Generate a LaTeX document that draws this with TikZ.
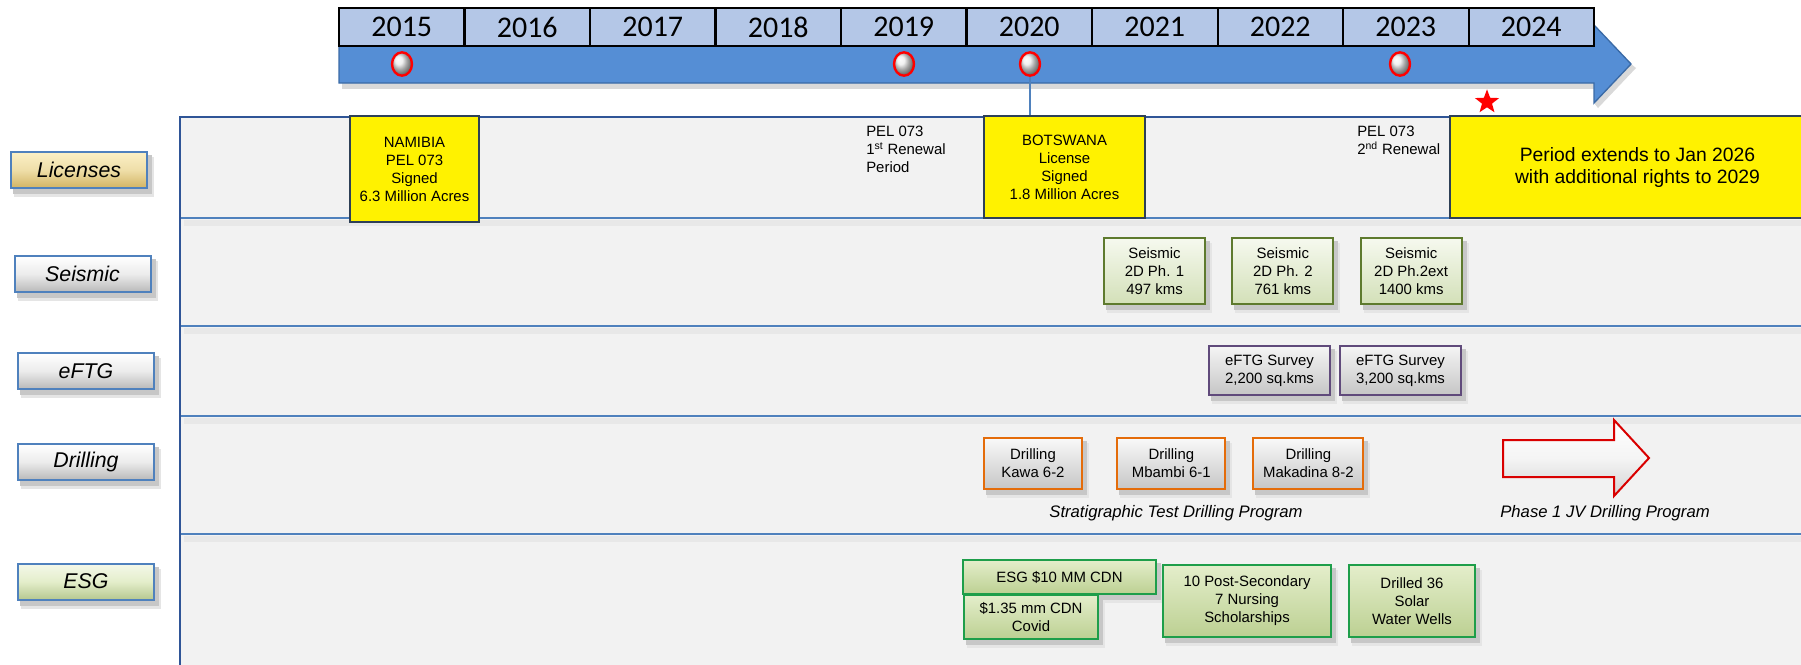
\documentclass[tikz,border=0pt]{standalone}
\usepackage{fontspec}
\setmainfont{Liberation Sans}
\newfontfamily\yearfont{Carlito}
\usepackage{tikz}
\usetikzlibrary{shapes.geometric}
\usetikzlibrary{positioning}
\usetikzlibrary{calc}

\pgfdeclarelayer{panel}
\pgfdeclarelayer{shadow}
\pgfsetlayers{panel,shadow,main}

\definecolor{yearblue}{HTML}{B4C7E7}
\definecolor{bandblue}{HTML}{558ED5}
\definecolor{bandedge}{HTML}{3A6AA6}
\definecolor{panelgray}{HTML}{F2F2F2}
\definecolor{rowblue}{HTML}{4F81BD}
\definecolor{paneledge}{HTML}{2F5597}
\definecolor{licedge}{HTML}{2E4057}
\definecolor{seisedge}{HTML}{5E7A2E}
\definecolor{seistop}{HTML}{F6F9EF}
\definecolor{seisbot}{HTML}{D3E0B8}
\definecolor{eftgedge}{HTML}{604A7B}
\definecolor{drilledge}{HTML}{E46C0A}
\definecolor{esgedge}{HTML}{1E9E4A}
\definecolor{esgtop}{HTML}{E4EECB}
\definecolor{esgbot}{HTML}{BCD092}
\definecolor{goldtop}{HTML}{FBF0C6}
\definecolor{goldbot}{HTML}{D2B463}

\begin{document}
\begin{tikzpicture}[
                x=0.75pt, y=-0.75pt,
                every node/.style={align=center, inner sep=0pt},
                yearbox/.style={draw=black, line width=1.5pt, fill=yearblue, minimum width=94.1pt, minimum height=28.5pt, font=\yearfont\fontsize{22.5}{22.5}\selectfont},
                milestone/.style={ellipse, draw=red, line width=1.8pt, ball color=white!85!gray, minimum width=15pt, minimum height=17.5pt},
                rowlabel/.style={draw=rowblue, line width=1.5pt, minimum width=102pt, minimum height=27pt, font=\itshape\fontsize{16}{16}\selectfont},
                boxtext/.style={font=\fontsize{11.2}{13.5}\selectfont},
                licbox/.style={boxtext, draw=licedge, line width=1.5pt, fill=yellow},
                note/.style={boxtext, align=left, anchor=north west},
                seisbox/.style={boxtext, draw=seisedge, line width=1.5pt, top color=seistop, bottom color=seisbot, minimum width=75.75pt, minimum height=49.5pt},
                eftgbox/.style={boxtext, draw=eftgedge, line width=1.5pt, top color=gray!8, bottom color=gray!45, minimum width=90.75pt, minimum height=36.75pt},
                drillbox/.style={boxtext, draw=drilledge, line width=1.5pt, top color=gray!5, bottom color=gray!45, minimum height=38.25pt},
                esgbox/.style={boxtext, draw=esgedge, line width=1.5pt, top color=esgtop, bottom color=esgbot},
                caption/.style={font=\itshape\fontsize{12.5}{14}\selectfont}
            ]
            \useasboundingbox (0,0) rectangle (1801,664);

            % Panel and rows
            \begin{pgfonlayer}{panel}
            \fill[panelgray] (180,117) rectangle (1830,690);
            \foreach \ry in {218,326,416,534} {
                \draw[black!9, line width=4pt] (184,\ry+5) -- (1830,\ry+5);
                \draw[rowblue, line width=1.5pt] (180,\ry) -- (1830,\ry);
            }
            \draw[paneledge, line width=2pt] (180,690) -- (180,117) -- (1830,117);
            \end{pgfonlayer}

            % Timeline band with arrow head
            \filldraw[fill=bandblue, draw=bandedge, line width=1pt]
            (339,46) -- (1594,46) -- (1594,25) -- (1631,64) -- (1594,103) -- (1594,83) -- (339,83) -- cycle;

            % Year boxes
            \foreach \yr [count=\i from 0] in {2015,2016,2017,2018,2019,2020,2021,2022,2023,2024}
                \node[yearbox] (y\yr) at (401.75+125.5*\i,27) {\yr};

            % Milestones
            \node[milestone] (m2015) at (402,64) {};
            \node[milestone] (m2019) at (904,64) {};
            \node[milestone] (m2020) at (1030,64) {};
            \node[milestone] (m2023) at (1400,64) {};
            \node[star, star points=5, star point ratio=2.4, fill=red, minimum size=19pt] (deadline) at (1487,102) {};

            % Row labels
            \node[rowlabel, top color=goldtop, bottom color=goldbot, middle color=goldtop!70!goldbot] (licenses) at (79,170) {Licenses};
            \node[rowlabel, top color=white, bottom color=gray!55, middle color=gray!15] (seismic) at (82.5,274) {Seismic};
            \node[rowlabel, top color=white, bottom color=gray!55, middle color=gray!15] (eftg) at (86,371) {eFTG};
            \node[rowlabel, top color=white, bottom color=gray!55, middle color=gray!15] (drilling) at (86,462) {Drilling};
            \node[rowlabel, top color=esgtop!40, bottom color=esgbot!90!gray, middle color=esgtop] (esg) at (86,581.5) {ESG};

            % Licenses
            \node[licbox, minimum width=96.75pt, minimum height=79.5pt] (namibia) at (414.5,169) {NAMIBIA\\PEL 073\\Signed\\6.3 Million Acres};
            \node[note] (pelfirst) at (866,126) {PEL 073\\1\textsuperscript{st} Renewal\\Period};
            \node[licbox, minimum width=120.75pt, minimum height=76.5pt] (botswana) at (1064.5,167) {BOTSWANA\\License\\Signed\\1.8 Million Acres};
            \node[note] (pelsecond) at (1357,126) {PEL 073\\2\textsuperscript{nd} Renewal};
            \node[licbox, minimum width=281.25pt, minimum height=76.5pt, font=\fontsize{14.5}{16.5}\selectfont] (extension) at (1637.5,167) {Period extends to Jan 2026\\with additional rights to 2029};
            \draw[rowblue, line width=2.2pt] (m2020.south) -- (m2020.south |- botswana.north);

            % Seismic
            \node[seisbox] (seis1) at (1154.5,271) {Seismic\\2D Ph. 1\\ 497 kms};
            \node[seisbox, right=19pt of seis1] (seis2) {Seismic\\2D Ph. 2\\ 761 kms};
            \node[seisbox, right=19pt of seis2] (seis3) {Seismic\\2D Ph.2ext\\ 1400 kms};

            % eFTG
            \node[eftgbox] (eftg1) at (1269.5,370.5) {eFTG Survey\\2,200 sq.kms};
            \node[eftgbox, right=6pt of eftg1] (eftg2) {eFTG Survey\\ 3,200 sq.kms};

            % Drilling
            \node[drillbox, minimum width=73.5pt] (drill1) at (1033,463.5) {Drilling\\Kawa 6-2};
            \node[drillbox, minimum width=81pt, right=25pt of drill1] (drill2) {Drilling\\Mbambi 6-1};
            \node[drillbox, minimum width=82.5pt, right=19.5pt of drill2] (drill3) {Drilling\\Makadina 8-2};
            \node[caption] (stratcap) at (1176,513) {Stratigraphic Test Drilling Program};
            \filldraw[draw=red!85!black, line width=1.5pt, top color=white, bottom color=gray!35, middle color=gray!8]
            (1503,440) -- (1614,440) -- (1614,420) -- (1649,458) -- (1614,496) -- (1614,477) -- (1503,477) -- cycle;
            \node[caption] (jvcap) at (1605,513) {Phase 1 JV Drilling Program};

            % ESG
            \node[esgbox, minimum width=144.75pt, minimum height=25.5pt] (esgfund) at (1059.5,577) {ESG \$10 MM CDN};
            \node[esgbox, minimum width=100.5pt, minimum height=33pt, anchor=north west] (covid) at (963,594) {\$1.35 mm CDN\\Covid};
            \node[esgbox, minimum width=126pt, minimum height=54pt] (scholar) at (1247,601) {10 Post-Secondary\\7 Nursing\\Scholarships};
            \node[esgbox, minimum width=94.5pt, minimum height=54pt, right=12pt of scholar] (wells) {Drilled 36\\Solar\\Water Wells};

            % Soft shadows under the boxes
            \begin{pgfonlayer}{shadow}
            \foreach \n in {licenses,seismic,eftg,drilling,esg,seis1,seis2,seis3,eftg1,eftg2,drill1,drill2,drill3,esgfund,covid,scholar,wells} {
                \fill[black!10] ($(\n.north west)+(4,6)$) rectangle ($(\n.south east)+(6,8)$);
                \fill[black!22] ($(\n.north west)+(3,4)$) rectangle ($(\n.south east)+(4,5)$);
            }
            \fill[black!15] (342,83) rectangle (1594,89);
            \fill[black!15] (1594,103) -- (1631,64) -- (1636,68) -- (1598,108) -- cycle;
            \end{pgfonlayer}

\end{tikzpicture}
\end{document}
